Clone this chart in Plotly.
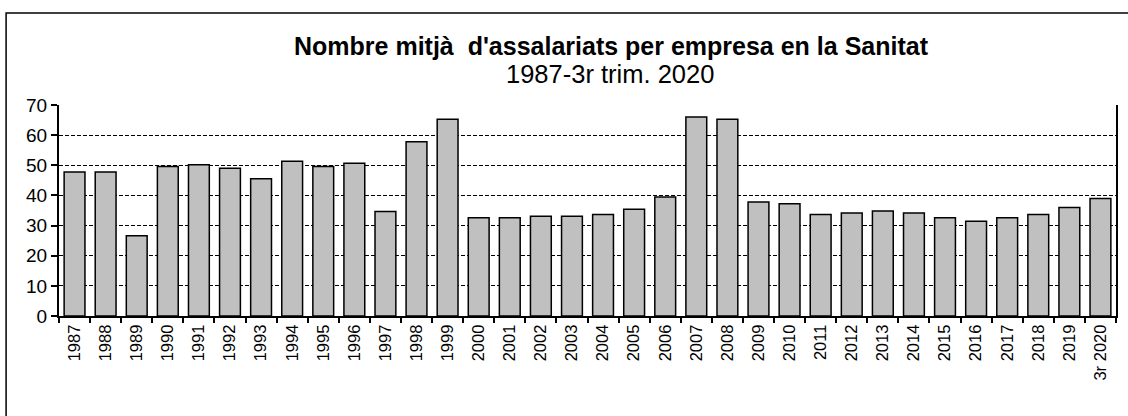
import plotly.graph_objects as go

years = ["1987", "1988", "1989", "1990", "1991", "1992", "1993", "1994", "1995", "1996",
         "1997", "1998", "1999", "2000", "2001", "2002", "2003", "2004", "2005", "2006",
         "2007", "2008", "2009", "2010", "2011", "2012", "2013", "2014", "2015", "2016",
         "2017", "2018", "2019", "3r 2020"]
values = [47.8, 47.8, 26.6, 49.6, 50.2, 49.0, 45.5, 51.3, 49.6, 50.7,
          34.7, 57.8, 65.3, 32.6, 32.6, 33.1, 33.1, 33.7, 35.4, 39.5,
          66.0, 65.3, 37.8, 37.2, 33.7, 34.2, 34.8, 34.2, 32.6, 31.4,
          32.6, 33.7, 36.0, 39.0]

title_text = "Nombre mitjà  d'assalariats per empresa en la Sanitat"
subtitle_text = "1987-3r trim. 2020"

W, H = 1128, 416
ml, mr, mt, mb = 59, 10, 105, 100
pw, ph = W - ml - mr, H - mt - mb

def px_x(x):
    return (x - ml) / pw

def px_y(y):
    return (H - mb - y) / ph

fig = go.Figure(go.Bar(
    x=years, y=values,
    marker=dict(color="#C0C0C0", line=dict(color="black", width=1.5)),
    hoverinfo="x+y",
))

font_family = "Liberation Sans, Arial, sans-serif"

fig.update_layout(
    width=W, height=H,
    margin=dict(l=ml, r=mr, t=mt, b=mb),
    paper_bgcolor="white", plot_bgcolor="white",
    bargap=0.33,
    showlegend=False,
    font=dict(family=font_family, color="black"),
    xaxis=dict(
        type="category", tickson="boundaries", ticks="outside", ticklen=5,
        tickwidth=1.5, tickcolor="black",
        showline=True, linecolor="black", linewidth=2,
        tickangle=-90, tickfont=dict(size=16.5, family=font_family, color="black"),
        showgrid=False,
    ),
    yaxis=dict(
        range=[0, 70], dtick=10, ticks="outside", ticklen=6, tickwidth=1.5,
        tickcolor="black", showline=True, linecolor="black", linewidth=2,
        mirror=True,
        showgrid=True, gridcolor="black", gridwidth=1, griddash="4px,2px",
        zeroline=False,
        tickfont=dict(size=19, family=font_family, color="black"),
    ),
    shapes=[dict(
        type="rect", xref="paper", yref="paper",
        x0=px_x(6), x1=1.2, y0=-1.2, y1=px_y(13),
        line=dict(color="black", width=1.5), fillcolor="rgba(0,0,0,0)", layer="below",
    )],
    annotations=[
        dict(text="<b>" + title_text + "</b>", xref="paper", yref="paper",
             x=px_x(613), y=px_y(46), xanchor="center", yanchor="middle",
             showarrow=False, font=dict(size=25, family=font_family, color="black")),
        dict(text=subtitle_text, xref="paper", yref="paper",
             x=px_x(611), y=px_y(74), xanchor="center", yanchor="middle",
             showarrow=False, font=dict(size=25.5, family=font_family, color="black")),
    ],
)

fig.write_html("out.html", config={"displayModeBar": False},
               post_script="document.body.style.margin='0';document.body.style.overflow='hidden';")
